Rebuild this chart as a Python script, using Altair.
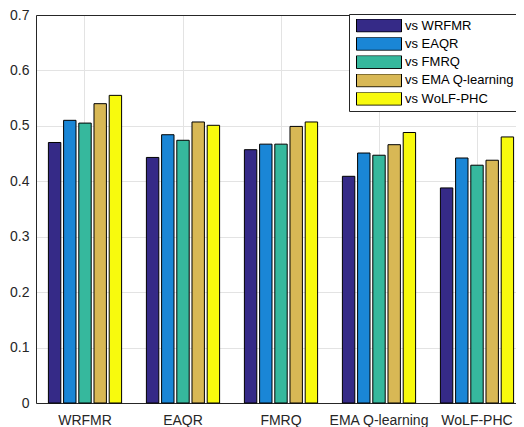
import altair as alt
import pandas as pd

categories = ["WRFMR", "EAQR", "FMRQ", "EMA Q-learning", "WoLF-PHC"]
series = ["vs WRFMR", "vs EAQR", "vs FMRQ", "vs EMA Q-learning", "vs WoLF-PHC"]
colors = ["#352A87", "#1A86D6", "#36B89D", "#D8B855", "#F8FA0D"]

vs_wrfmr = [0.470, 0.443, 0.457, 0.409, 0.388]
vs_eaqr = [0.510, 0.484, 0.467, 0.451, 0.442]
vs_fmrq = [0.505, 0.474, 0.467, 0.447, 0.429]
vs_ema = [0.540, 0.507, 0.499, 0.466, 0.438]
vs_wolf = [0.555, 0.501, 0.507, 0.488, 0.480]

vals = [vs_wrfmr, vs_eaqr, vs_fmrq, vs_ema, vs_wolf]
rows = []
for s, v in zip(series, vals):
    for c, y in zip(categories, v):
        rows.append({"cat": c, "series": s, "value": y})
df = pd.DataFrame(rows)

FONT = "Liberation Sans"
AX = "#262626"
GRID = "#e3e3e3"

xscale = alt.Scale(domain=categories, range=[0, 490], paddingInner=0.2245, paddingOuter=0.11225)
yscale = alt.Scale(domain=[0, 0.7], nice=False)
offscale = alt.Scale(domain=series, paddingInner=0.184, paddingOuter=0.092)

yenc = alt.Y("value:Q", scale=yscale,
             axis=alt.Axis(title=None, values=[0, 0.1, 0.2, 0.3, 0.4, 0.5, 0.6, 0.7], format=".1~f",
                           tickSize=0, labelPadding=7, domainColor=AX, labelColor=AX,
                           labelFontSize=14, labelFont=FONT, grid=True, gridColor=GRID))

bars = alt.Chart(df).mark_bar(stroke="black", strokeWidth=1).encode(
    x=alt.X("cat:N", scale=xscale, sort=categories,
            axis=alt.Axis(title=None, orient="bottom", labelAngle=0, grid=True, bandPosition=0.5,
                          tickSize=0, labelPadding=10, domainColor=AX, labelColor=AX,
                          labelFontSize=14, labelFont=FONT, gridColor=GRID)),
    xOffset=alt.XOffset("series:N", scale=offscale, sort=series),
    y=yenc,
    color=alt.Color("series:N", scale=alt.Scale(domain=series, range=colors), sort=series,
                    legend=alt.Legend(title=None, orient="none", legendX=313, legendY=-1,
                                      symbolType="M-1,-0.289H1V0.289H-1Z", symbolSize=2025,
                                      symbolStrokeColor="black", symbolStrokeWidth=1,
                                      clipHeight=13, symbolOffset=2,
                                      labelFontSize=13, labelFont=FONT, labelColor="black",
                                      labelOffset=3, padding=5, rowPadding=4.3,
                                      strokeColor=AX, fillColor="white", cornerRadius=0)),
)

top = alt.Chart(df).mark_bar(opacity=0).encode(
    x=alt.X("cat:N", scale=xscale, sort=categories,
            axis=alt.Axis(title=None, orient="top", labels=False, ticks=False, grid=False,
                          domainColor=AX)),
    y=yenc,
)

chart = alt.layer(bars, top).resolve_axis(x="independent").properties(
    width=480, height=388,
    autosize=alt.AutoSizeParams(type="none"),
    padding={"left": 28, "top": 7, "right": 0, "bottom": 24},
).configure_view(stroke=None).configure(background="white")

chart.save("out.html", embed_options={"renderer": "svg", "actions": False})
